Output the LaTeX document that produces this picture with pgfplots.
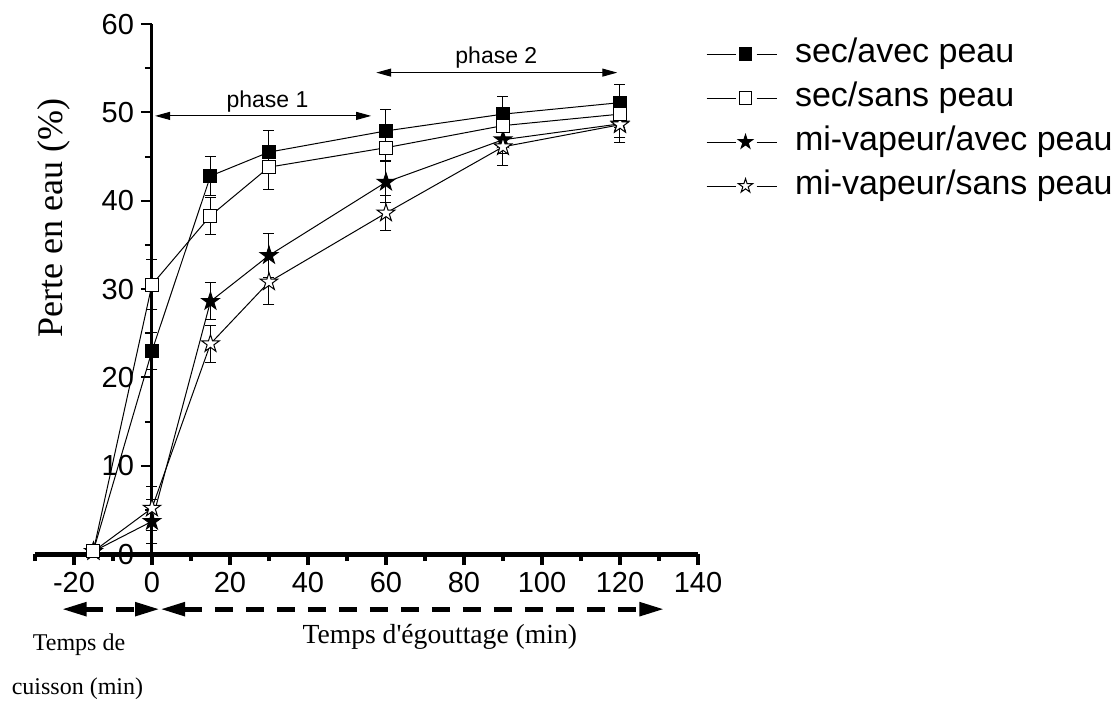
\documentclass[border=0pt]{standalone}
\usepackage{fontspec}
\setmainfont{Liberation Sans}
\newfontfamily\tnr{Liberation Serif}
\usepackage{pgfplots}
\pgfplotsset{compat=1.18}
\usetikzlibrary{arrows.meta,plotmarks}

% five-pointed star mark
\pgfdeclareplotmark{fstar}{%
  \pgfpathmoveto{\pgfpointpolar{90}{\pgfplotmarksize}}%
  \pgfpathlineto{\pgfpointpolar{126}{0.382\pgfplotmarksize}}%
  \pgfpathlineto{\pgfpointpolar{162}{\pgfplotmarksize}}%
  \pgfpathlineto{\pgfpointpolar{198}{0.382\pgfplotmarksize}}%
  \pgfpathlineto{\pgfpointpolar{234}{\pgfplotmarksize}}%
  \pgfpathlineto{\pgfpointpolar{270}{0.382\pgfplotmarksize}}%
  \pgfpathlineto{\pgfpointpolar{306}{\pgfplotmarksize}}%
  \pgfpathlineto{\pgfpointpolar{342}{0.382\pgfplotmarksize}}%
  \pgfpathlineto{\pgfpointpolar{18}{\pgfplotmarksize}}%
  \pgfpathlineto{\pgfpointpolar{54}{0.382\pgfplotmarksize}}%
  \pgfpathclose
  \pgfusepathqfillstroke}

\pgfplotsset{
  errb/.style={error bars/.cd, y dir=both, y explicit,
    error bar style={line width=0.5pt, black},
    error mark=|, error mark options={mark size=2.75pt, line width=0.5pt, black}},
  serie/.style={black, line width=0.5pt},
}

\begin{document}
\begin{tikzpicture}
\begin{axis}[
  scale only axis,
  width=331.5pt, height=265pt,
  xmin=-30, xmax=140, ymin=0, ymax=60,
  axis x line*=middle, axis y line*=middle,
  hide obscured x ticks=false, hide obscured y ticks=false,
  xtick={-20,0,...,140}, minor xtick={-30,-10,...,130},
  ytick={0,10,...,60}, minor ytick={5,15,...,55},
  tick align=outside,
  major tick length=5.5pt, minor tick length=3.5pt,
  x axis line style={line width=2.5pt},
  y axis line style={line width=1.5pt},
  xtick style={line width=2pt, black},
  ytick style={line width=1pt, black},
  tick label style={font=\fontsize{14.5}{16}\selectfont},
  /pgf/number format/assume math mode=true,
  xticklabel style={anchor=north},
  yticklabel style={anchor=east},
  clip=false,
  legend style={at={(axis description cs:1.0121,0.9736)}, anchor=north west,
    draw=none, fill=none, inner sep=0pt, outer sep=0pt,
    font=\fontsize{17}{19}\selectfont,
    nodes={inner sep=0pt, outer sep=0pt, text height=12pt, text depth=4pt},
    row sep=6pt, column sep=9pt},
  legend cell align=left,
  legend image code/.code={
    \draw (0pt,0pt) -- (14.5pt,0pt);
    \draw (25pt,0pt) -- (35pt,0pt);
    \draw plot coordinates {(19.5pt,0pt)};},
]
% legend
\addlegendimage{serie, mark=square*, mark size=3.1pt, mark options={fill=black}}
\addlegendentry{sec/avec peau}
\addlegendimage{serie, mark=square*, mark size=3.1pt, mark options={fill=white}}
\addlegendentry{sec/sans peau}
\addlegendimage{serie, mark=fstar, mark size=3.7pt, mark options={fill=black}}
\addlegendentry{mi-vapeur/avec peau}
\addlegendimage{serie, mark=fstar, mark size=3.7pt, mark options={fill=white}}
\addlegendentry{mi-vapeur/sans peau}

% mi-vapeur/avec peau
\addplot[serie, forget plot, mark=fstar, mark size=4.6pt, mark options={fill=black}, errb]
  coordinates {(-15,0.3) +- (0,0) (0,3.7) +- (0,2.5) (15,28.6) +- (0,2.1) (30,33.8) +- (0,2.5)
               (60,42.1) +- (0,2.3) (90,46.9) +- (0,1.6) (120,48.7) +- (0,1.5)};
% mi-vapeur/sans peau
\addplot[serie, forget plot, mark=fstar, mark size=4.6pt, mark options={fill=white}, errb]
  coordinates {(-15,0.3) +- (0,0) (0,5.2) +- (0,2.5) (15,23.8) +- (0,2.1) (30,30.8) +- (0,2.5)
               (60,38.6) +- (0,2.0) (90,46.1) +- (0,2.1) (120,48.6) +- (0,2.0)};
% sec/avec peau
\addplot[serie, forget plot, mark=square*, mark size=3.25pt, mark options={fill=black}, errb]
  coordinates {(-15,0.4) +- (0,0) (0,23.0) +- (0,2.1) (15,42.8) +- (0,2.2) (30,45.5) +- (0,2.4)
               (60,47.9) +- (0,2.4) (90,49.8) +- (0,2.0) (120,51.1) +- (0,2.1)};
% sec/sans peau
\addplot[serie, forget plot, mark=square*, mark size=3.25pt, mark options={fill=white}, errb]
  coordinates {(-15,0.4) +- (0,0) (0,30.5) +- (0,2.8) (15,38.3) +- (0,2.1) (30,43.8) +- (0,2.5)
               (60,46.0) +- (0,1.5) (90,48.5) +- (0,1.5) (120,49.8) +- (0,1.5)};

% phases
\draw[line width=0.5pt, {Triangle[length=7.5pt,width=4pt]}-{Triangle[length=7.5pt,width=4pt]}]
  (axis cs:0.8,49.6) -- (axis cs:56.2,49.6);
\node[anchor=base, font=\fontsize{11.5}{13}\selectfont] at (axis cs:29.6,50.5) {phase 1};
\draw[line width=0.5pt, {Triangle[length=7.5pt,width=4pt]}-{Triangle[length=7.5pt,width=4pt]}]
  (axis cs:57.5,54.5) -- (axis cs:119.3,54.5);
\node[anchor=base, font=\fontsize{11.5}{13}\selectfont] at (axis cs:88.3,55.5) {phase 2};

% time arrows under the axis
\draw[line width=2.5pt, dash pattern=on 9pt off 6.5pt,
  {Triangle[length=12.5pt,width=6.5pt]}-{Triangle[length=12.5pt,width=6.5pt]}]
  (axis cs:-23.2,-6.24) -- (axis cs:2.06,-6.24);
\draw[line width=2.5pt, dash pattern=on 9pt off 6.5pt,
  {Triangle[length=12.5pt,width=6.5pt]}-{Triangle[length=12.5pt,width=6.5pt]}]
  (axis cs:2.06,-6.24) -- (axis cs:131.4,-6.24);

% labels
\node[anchor=base, rotate=90, font=\tnr\fontsize{18}{20}\selectfont] at (axis cs:-22.9,38.05) {Perte en eau (\%)};
\node[anchor=base, font=\tnr\fontsize{13.8}{15}\selectfont] at (axis cs:73.8,-10.08) {Temps d'égouttage (min)};
\node[anchor=base, font=\tnr\fontsize{12}{14}\selectfont] at (axis cs:-18.7,-10.87) {Temps de};
\node[anchor=base, font=\tnr\fontsize{12}{14}\selectfont] at (axis cs:-19.1,-15.85) {cuisson (min)};

% frame of the whole picture
\path (axis cs:-38.97,62.72) rectangle (axis cs:247.18,-16.30);
\end{axis}
\end{tikzpicture}
\end{document}
